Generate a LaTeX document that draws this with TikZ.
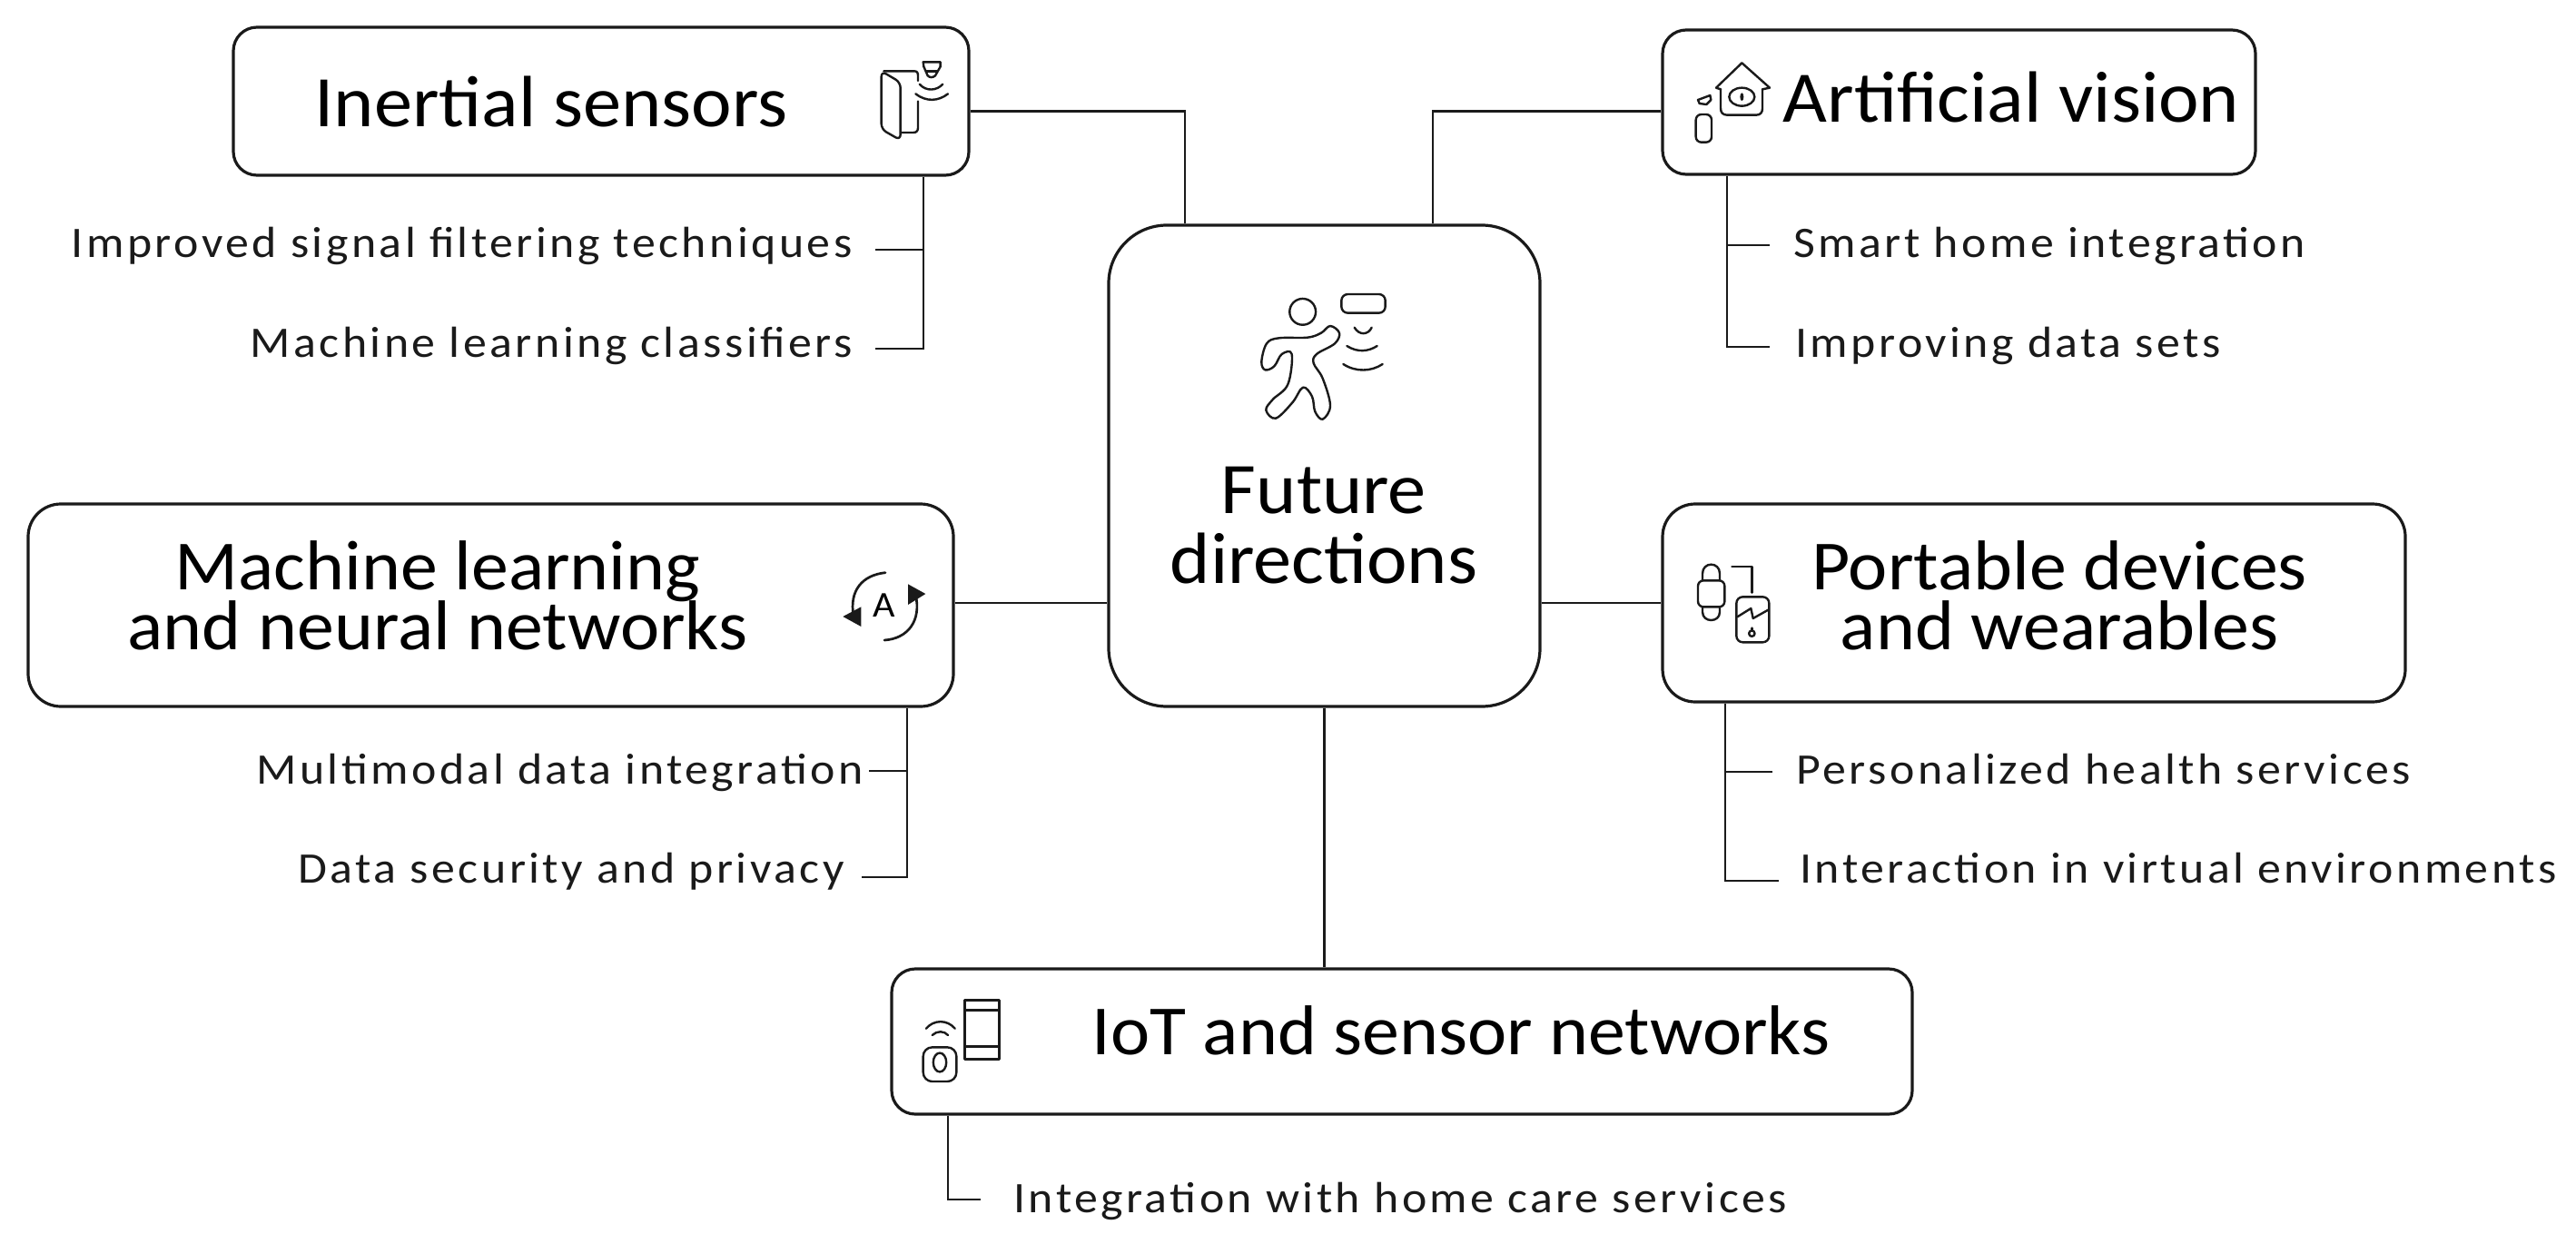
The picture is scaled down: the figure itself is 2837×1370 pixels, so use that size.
\documentclass[tikz,border=0pt]{standalone}
\usepackage{fontspec}
\setmainfont[FakeStretch=1.055]{Carlito}
\newfontfamily\labfont[LetterSpace=7.2,FakeStretch=1.08]{Carlito}
\definecolor{ink}{HTML}{1A1A1A}
\lineskiplimit=-60pt
\tikzset{
  box/.style={draw=ink,line width=1.6pt,rounded corners=#1,inner sep=0pt,fill=white},
  box/.default=13pt,
  conn/.style={draw=ink,line width=1.35pt},
  ttl/.style={text=black,inner sep=0pt,font=\fontsize{40}{38.5}\selectfont,align=center},
  ttlb/.style={text=black,inner sep=0pt,font=\fontsize{38.8}{33}\selectfont,align=center},
  lab/.style={text=ink,inner sep=0pt,font=\labfont\fontsize{24}{24}\selectfont},
  ico/.style={draw=ink,line width=1.2pt,line join=round,line cap=round},
  zoomed/.style={x=0.16667pt,y=-0.16667pt},
}
\begin{document}
\begin{tikzpicture}[x=0.5pt,y=-0.5pt]
\useasboundingbox (0,0) rectangle (2837,1370);
% boxes
\node[box,minimum width=405pt,minimum height=81.5pt] (inertial) at (662,111.5) {};
\node[box,minimum width=326.5pt,minimum height=79.5pt] (artificial) at (2157.5,112.5) {};
\node[box=32pt,minimum width=237.5pt,minimum height=265pt] (hub) at (1458.5,513) {};
\node[box=18pt,minimum width=509.5pt,minimum height=111.5pt] (ml) at (540.5,666.5) {};
\node[box=18pt,minimum width=409pt,minimum height=109pt] (portable) at (2240,664) {};
\node[box,minimum width=562pt,minimum height=80pt] (iot) at (1544,1147) {};
% titles
\node[ttl,anchor=base] (t1) at (607,140) {Inertial sensors};
\node[ttl,anchor=base] (t2) at (2215,134) {Artificial vision};
\node[ttl,anchor=base] (t3) at (1458,642) {Future\\directions};
\node[ttlb,anchor=base] (t4) at (482,715) {Machine learning\\and neural networks};
\node[ttlb,anchor=base] (t5) at (2268,715) {Portable devices\\and wearables};
\node[ttlb,anchor=base] (t6) at (1609,1161) {IoT and sensor networks};
% labels
\node[lab,anchor=base east] (l1) at (939,283) {Improved signal filtering techniques};
\node[lab,anchor=base east] (l2) at (939,393) {Machine learning classifiers};
\node[lab,anchor=base west] (l3) at (1975,283) {Smart home integration};
\node[lab,anchor=base west] (l4) at (1977,393) {Improving data sets};
\node[lab,anchor=base east] (l5) at (951,863) {Multimodal data integration};
\node[lab,anchor=base east] (l6) at (930,972) {Data security and privacy};
\node[lab,anchor=base west] (l7) at (1978,863) {Personalized health services};
\node[lab,anchor=base west] (l8) at (1982,972) {Interaction in virtual environments};
\node[lab,anchor=base west] (l9) at (1116,1335) {Integration with home care services};
% connectors to hub
\draw[conn] ([yshift=-5.5pt]inertial.east) -| ([xshift=-76.75pt]hub.north);
\draw[conn] ([yshift=-5pt]artificial.west) -| ([xshift=59.75pt]hub.north);
\draw[conn] ([yshift=1.25pt]ml.east) -- ([yshift=-75.5pt]hub.west);
\draw[conn] ([yshift=-75.5pt]hub.east) -- (portable.west);
\draw[conn] (hub.south) -- (hub.south |- iot.north);
% brackets
\coordinate (a1) at (964,275); \coordinate (a2) at (964,384);
\coordinate (b1) at (1949,270); \coordinate (b2) at (1949,382);
\coordinate (c1) at (957,849); \coordinate (c2) at (949,966);
\coordinate (d1) at (1952,850); \coordinate (d2) at (1959,970);
\coordinate (e1) at (1080,1321);
\coordinate (as) at (1017,0); \coordinate (bs) at (1902,0); \coordinate (cs) at (999,0); \coordinate (ds) at (1900,0); \coordinate (es) at (1044,0);
\draw[conn] (inertial.south -| as) |- (a2);
\draw[conn] (a1) -- (a1 -| as);
\draw[conn] (artificial.south -| bs) |- (b2);
\draw[conn] (b1) -- (b1 -| bs);
\draw[conn] (ml.south -| cs) |- (c2);
\draw[conn] (c1) -- (c1 -| cs);
\draw[conn] (portable.south -| ds) |- (d2);
\draw[conn] (d1) -- (d1 -| ds);
\draw[conn] (iot.south -| es) |- (e1);
% icon: door
\begin{scope}[shift={(940,20)},zoomed,ico]
\draw (100,175) -- (200,175) .. controls (210,175) and (213,180) .. (213,190) -- (213,207);
\draw (213,275) -- (213,362) .. controls (213,372) and (208,378) .. (198,378) -- (157,378);
\draw[rounded corners=3pt] (92,175) -- (155,212) -- (155,403) -- (92,367) -- cycle;
\draw (230,145) -- (287,145) -- (287,160) -- (270,190) .. controls (262,197) and (252,197) .. (245,190) -- (232,160) -- cycle;
\draw (240,175) -- (275,175);
\draw (218,218) .. controls (240,243) and (275,240) .. (295,218);
\draw (205,250) .. controls (240,277) and (280,275) .. (312,250);
\end{scope}
% icon: person
\begin{scope}[shift={(1340,300)},zoomed,ico]
\draw (284,130) circle[radius=7.2pt];
\draw[rounded corners=3.5pt] (412,72) rectangle (557,134);
\draw (455,182) .. controls (470,208) and (500,208) .. (512,182);
\draw (430,243) .. controls (465,265) and (500,262) .. (530,243);
\draw (418,303) .. controls (460,330) and (510,328) .. (548,303);
\draw plot[smooth cycle,tension=0.6] coordinates {(205,217) (300,215) (345,200) (375,177) (405,200) (390,235) (330,270) (320,300) (350,350) (375,440) (350,485) (325,460) (315,410) (285,380) (250,430) (195,482) (163,455) (185,420) (235,370) (248,270) (215,270) (190,310) (160,322) (148,295) (165,235)};
\end{scope}
% icon: house
\begin{scope}[shift={(1840,50)},zoomed,ico]
\draw (165,145) -- (150,140) -- (235,58) -- (327,140) -- (303,145);
\draw (165,145) -- (165,208) .. controls (165,222) and (172,230) .. (187,230) -- (282,230) .. controls (296,230) and (303,222) .. (303,208) -- (303,145);
\draw (235,170) ellipse[x radius=7pt,y radius=5pt];
\fill[ink] (235,170) ellipse[x radius=1pt,y radius=2.2pt];
\draw (90,180) -- (130,165) -- (133,180) -- (118,195) -- (95,192) -- cycle;
\draw[rounded corners=3pt] (83,228) rectangle (135,320);
\end{scope}
% icon: cycle A
\begin{scope}[shift={(900,600)},zoomed,ico]
\draw[line width=1.35pt] (225,92) .. controls (150,100) and (105,150) .. (120,235);
\fill[ink] (85,237) -- (145,205) -- (145,270) -- cycle;
\draw[line width=1.35pt] (222,315) .. controls (300,310) and (345,250) .. (325,165);
\fill[ink] (300,130) -- (358,162) -- (300,198) -- cycle;
\node[inner sep=0pt,text=black,font=\fontsize{20}{20}\selectfont] (aglyph) at (222,199) {A};
\end{scope}
% icon: wearables
\begin{scope}[shift={(1840,600)},zoomed,ico]
\draw[rounded corners=3pt] (90,118) rectangle (178,205);
\draw (105,118) -- (105,95) .. controls (105,55) and (162,55) .. (162,95) -- (162,118);
\draw (105,205) -- (105,222) .. controls (105,258) and (162,258) .. (162,222) -- (162,205);
\draw (202,72) -- (268,72) -- (268,158);
\draw[rounded corners=3.5pt] (217,172) rectangle (325,322);
\draw (220,238) -- (265,210) -- (272,243) -- (322,215);
\draw (268,293) circle[radius=1.6pt];
\draw (268,284) -- (268,275);
\end{scope}
% icon: IoT
\begin{scope}[shift={(990,1080)},zoomed,ico]
\draw (218,65) rectangle (332,260);
\draw (218,97) -- (332,97);
\draw (218,218) -- (332,218);
\draw (90,158) .. controls (115,128) and (160,128) .. (185,158);
\draw (110,180) .. controls (125,165) and (150,165) .. (162,180);
\draw[rounded corners=5pt] (80,220) rectangle (190,333);
\draw (135,270) ellipse[x radius=3.6pt,y radius=5.2pt];
\end{scope}
\end{tikzpicture}
\end{document}
